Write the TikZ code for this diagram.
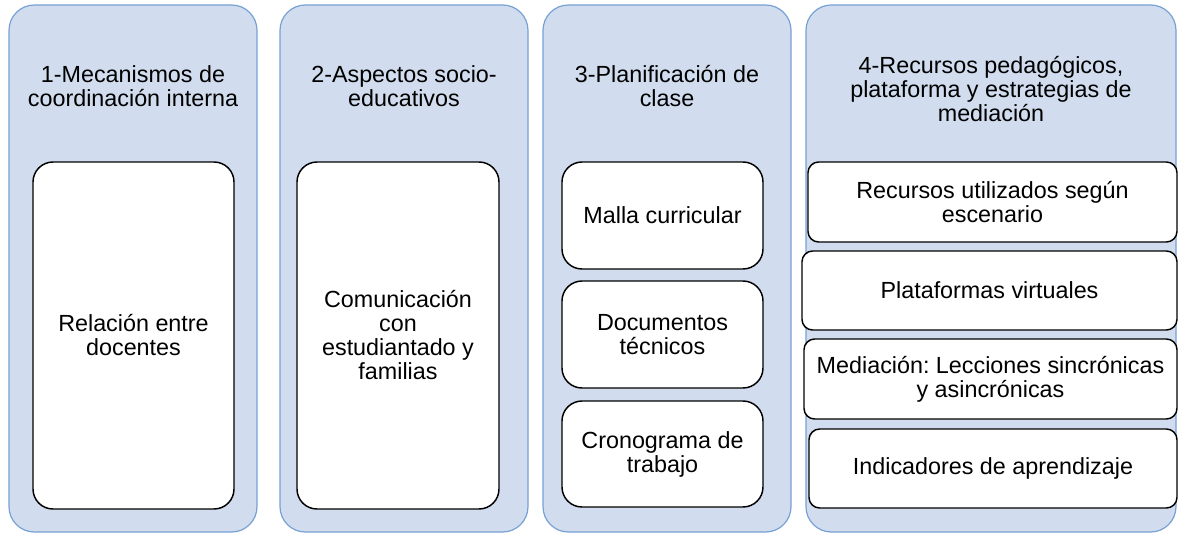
\documentclass[tikz,border=0pt]{standalone}
\usepackage{fontspec}
\setmainfont{Liberation Sans}
\frenchspacing
\definecolor{lanefill}{HTML}{D1DDEE}
\definecolor{laneline}{HTML}{77A0D4}
\tikzset{
  lane/.style={fill=lanefill, draw=laneline, line width=0.9pt, rounded corners=19pt},
  itembox/.style={fill=white, draw=black, line width=1.1pt, rounded corners=15pt},
  smallbox/.style={fill=white, draw=black, line width=1.1pt, rounded corners=8pt},
  txt/.style={align=center, inner sep=0pt, font=\fontsize{17.5}{18}\selectfont}
}
\begin{document}
\begin{tikzpicture}[x=0.75pt,y=0.75pt,yscale=-1,xscale=1]
\useasboundingbox (0,0) rectangle (1178,533);

% lanes
\draw[lane] (9,5) rectangle (257,532);
\draw[lane] (280,5) rectangle (528,532);
\draw[lane] (543,5) rectangle (791,532);
\draw[lane] (806,5) rectangle (1176,532);

% lane titles
\node[txt] (title1) at (133,86) {1-Mecanismos de\\coordinaci\'on interna};
\node[txt] (title2) at (404,86) {2-Aspectos socio-\\educativos};
\node[txt] (title3) at (667,86) {3-Planificaci\'on de\\clase};
\node[txt] (title4) at (991,89) {4-Recursos pedag\'ogicos,\\plataforma y estrategias de\\mediaci\'on};

% first lane
\draw[itembox] (33,162) rectangle (234,509);
\node[txt] (rel) at (133.5,335.5) {Relaci\'on entre\\docentes};

% second lane
\draw[itembox] (297,162) rectangle (499,509);
\node[txt] (com) at (398,335.5) {Comunicaci\'on\\con\\estudiantado y\\familias};

% third lane
\draw[itembox] (562,162) rectangle (763,269);
\node[txt] (malla) at (662.5,215.5) {Malla curricular};
\draw[itembox] (562,281) rectangle (763,388);
\node[txt] (doc) at (662.5,334.5) {Documentos\\t\'ecnicos};
\draw[itembox] (562,401) rectangle (763,507);
\node[txt] (crono) at (662.5,454) {Cronograma de\\trabajo};

% fourth lane
\draw[smallbox] (808,162) rectangle (1177,242);
\node[txt] (recu) at (992.5,202) {Recursos utilizados seg\'un\\escenario};
\draw[smallbox] (802,251) rectangle (1177,330);
\node[txt] (plat) at (989.5,290.5) {Plataformas virtuales};
\draw[smallbox] (804,339) rectangle (1177,419);
\node[txt] (medi) at (990.5,379) {Mediaci\'on: Lecciones sincr\'onicas\\y asincr\'onicas};
\draw[smallbox] (809,429) rectangle (1177,508);
\node[txt] (indi) at (993,468.5) {Indicadores de aprendizaje};

\end{tikzpicture}
\end{document}
